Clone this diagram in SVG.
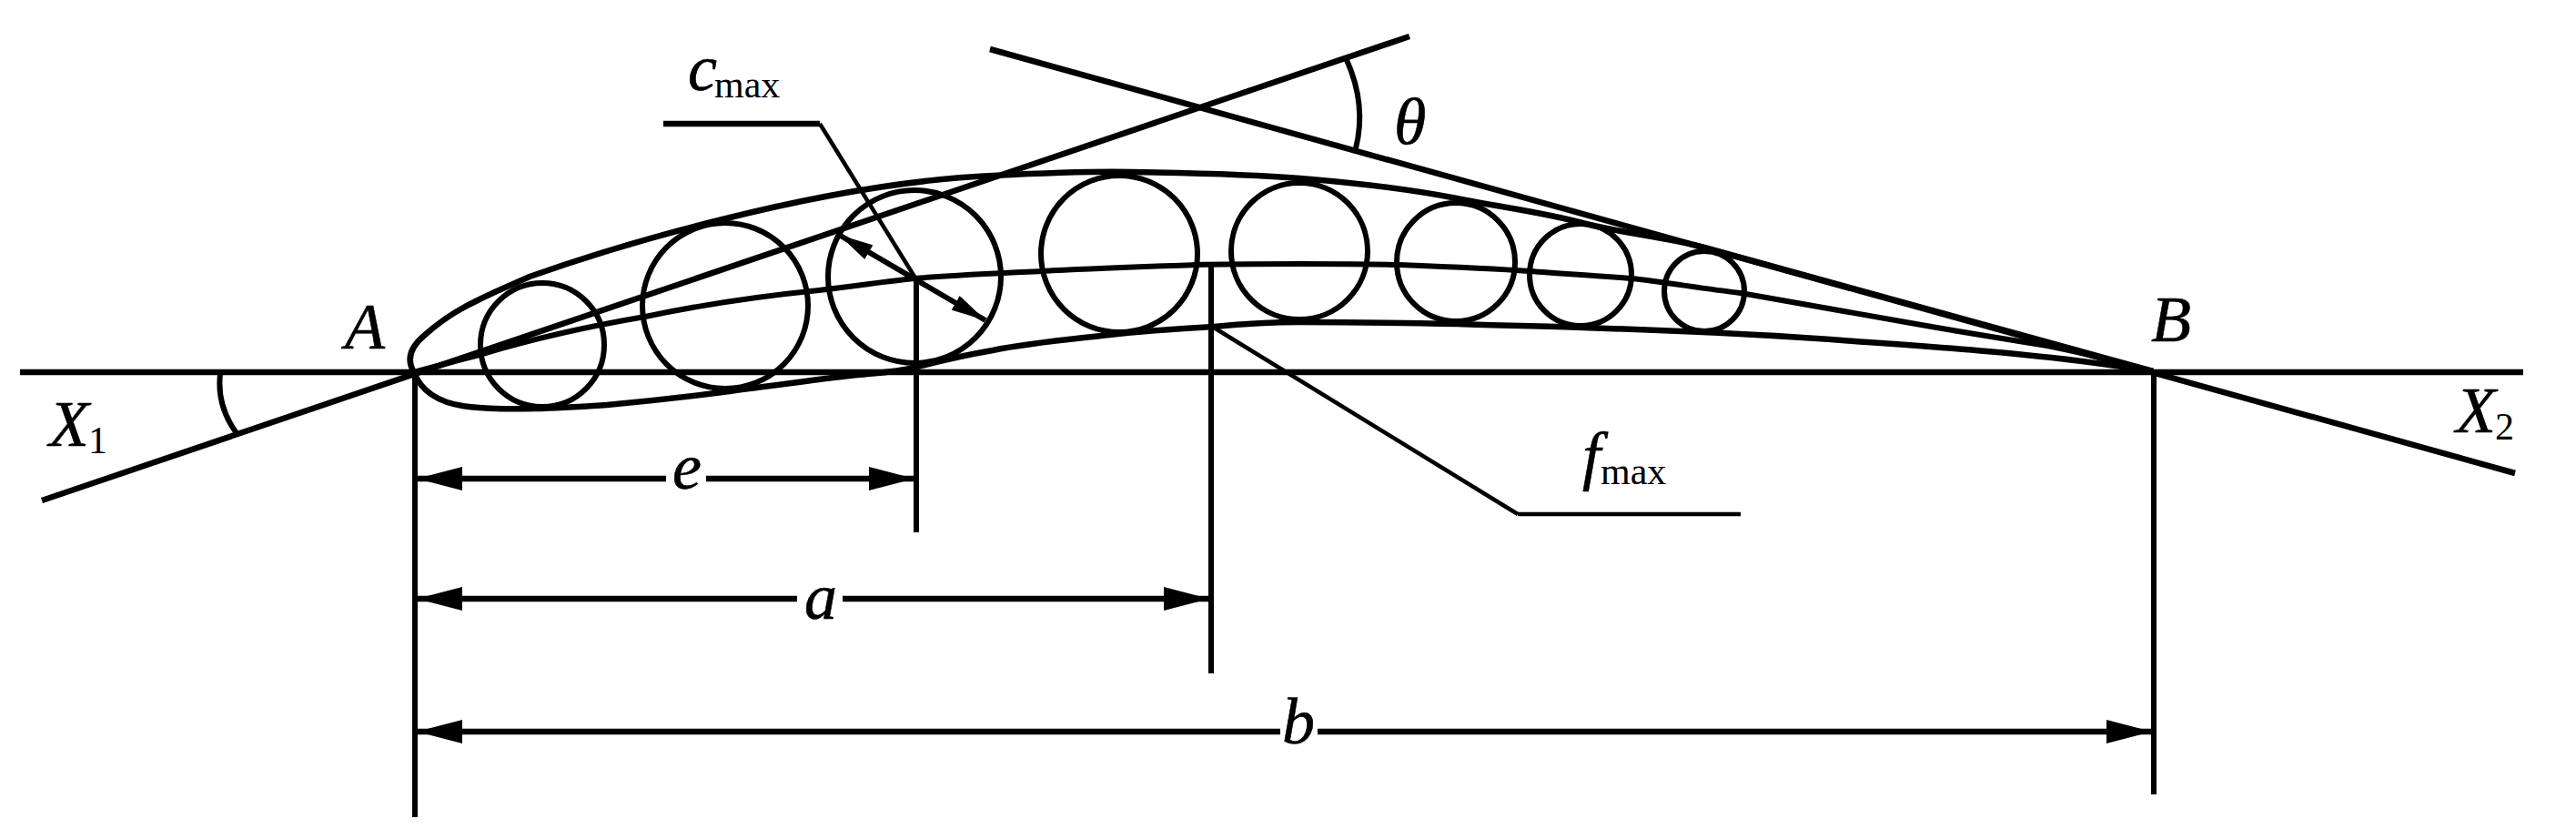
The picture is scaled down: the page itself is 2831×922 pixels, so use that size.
<svg xmlns="http://www.w3.org/2000/svg" width="2831" height="922" viewBox="0 0 2831 922">
<style>
.thick{fill:none;stroke:#000;stroke-width:6.5}
.mid{fill:none;stroke:#000;stroke-width:6}
.thin{fill:none;stroke:#000;stroke-width:4.5}
.i{font-family:"Liberation Serif",serif;font-style:italic;font-size:72px;fill:#000;stroke:#000;stroke-width:.6}
.s{font-family:"Liberation Serif",serif;font-size:42px;fill:#000}
</style>
<defs>
<marker id="arr" viewBox="0 0 50 26" refX="50" refY="13" markerWidth="50" markerHeight="26" markerUnits="userSpaceOnUse" orient="auto-start-reverse"><path d="M0 0L50 13L0 26Z" fill="#000"/></marker>
<marker id="arr2" viewBox="0 0 38 18" refX="38" refY="9" markerWidth="38" markerHeight="18" markerUnits="userSpaceOnUse" orient="auto-start-reverse"><path d="M0 0L38 9L0 18Z" fill="#000"/></marker>
</defs>
<rect width="2831" height="922" fill="#fff"/>
<g id="airfoil">
<path class="thick" d="M455 409C447 396 450 382 467 368C485 352 500 342 521 332C540 322 560 314 582 304C650 280 725 258 794 241C870 222 980 198 1091 193C1150 190 1200 188 1244 189C1310 190 1370 191 1429 196C1490 201 1545 207 1601 218C1650 228 1690 232 1739 245C1780 256 1830 260 1873 272L2366 408"/>
<path class="thick" d="M455 409C462 428 480 443 515 447C560 452 620 448 667 445C710 441 755 436 794 431C840 425 890 418 933 413C960 410 985 409 1005 404C1035 396 1062 390 1091 385C1130 377 1175 373 1219 368C1255 364 1295 361 1334 359C1365 356 1395 354 1429 354C1490 354 1550 355 1602 356C1650 358 1695 358 1739 360C1830 363 1950 368 2038 375C2110 380 2170 384 2225 390C2280 395 2320 401 2366 408"/>
<path class="mid" d="M455 409C480 402 505 396 530 389C590 371 650 358 709 348C775 334 840 325 900 319C950 313 975 309 1005 306C1050 302 1100 300 1146 298C1200 295 1260 293 1314 291C1350 290 1390 290 1429 290C1465 290 1500 290 1538 291C1590 293 1640 295 1681 298C1720 301 1760 303 1793 306C1830 310 1870 317 1913 322C1980 334 2040 345 2100 355C2150 364 2200 372 2250 380C2290 388 2330 398 2366 408"/>
</g>
<g id="circles">
<circle class="mid" cx="596" cy="379" r="68"/>
<circle class="mid" cx="797" cy="336" r="91"/>
<circle class="mid" cx="1005" cy="304" r="95"/>
<circle class="mid" cx="1230" cy="279" r="86"/>
<circle class="mid" cx="1428" cy="276" r="75"/>
<circle class="mid" cx="1600" cy="288" r="65"/>
<circle class="mid" cx="1737" cy="302" r="56"/>
<circle class="mid" cx="1873" cy="320" r="44"/>
</g>
<g id="connectors">
<path class="thick" d="M22 409H2773"/>
<path class="thick" d="M46 550L1549 40"/>
<path class="thick" d="M1088 54L2764 520"/>
<path class="mid" d="M242 411Q238 446 260 476"/>
<path class="mid" d="M1480 66Q1502 115 1490 163"/>
<path class="mid" d="M456 409V898"/>
<path class="mid" d="M2367 409V873"/>
<path class="mid" d="M1007 304V585"/>
<path class="mid" d="M1331 292V740"/>
<path class="thick" d="M729 136H901"/>
<path class="thin" d="M901 136L1005 304"/>
<path class="thin" d="M1334 360L1668 565"/>
<path class="thin" d="M1668 565H1913"/>
<path class="mid" d="M922 258L1083 352" marker-start="url(#arr2)" marker-end="url(#arr2)"/>
<path class="thick" d="M458 526H732" marker-start="url(#arr)"/>
<path class="thick" d="M776 526H1005" marker-end="url(#arr)"/>
<path class="thick" d="M458 658H876" marker-start="url(#arr)"/>
<path class="thick" d="M926 658H1329" marker-end="url(#arr)"/>
<path class="thick" d="M458 804H1407" marker-start="url(#arr)"/>
<path class="thick" d="M1448 804H2365" marker-end="url(#arr)"/>
</g>
<g id="labels">
<text class="i" x="379" y="383">A</text>
<text class="i" x="2364" y="375">B</text>
<text class="i" x="54" y="490">X</text><text class="s" x="97" y="498">1</text>
<text class="i" x="2699" y="475">X</text><text class="s" x="2742" y="483">2</text>
<text class="i" x="756" y="99">c</text><text class="s" x="785" y="107">max</text>
<text class="i" x="1739" y="525">f</text><text class="s" x="1759" y="532">max</text>
<text class="i" x="1532" y="158">θ</text>
<text class="i" x="739" y="537">e</text>
<text class="i" x="884" y="680">a</text>
<text class="i" x="1409" y="817">b</text>
</g>
</svg>
